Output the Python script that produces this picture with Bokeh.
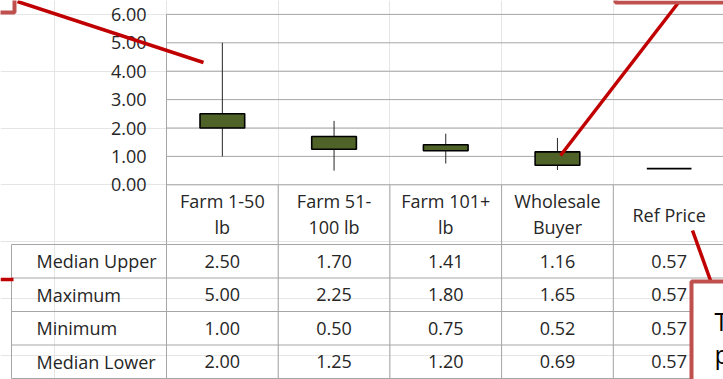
from bokeh.plotting import figure
from bokeh.models import Range1d, ColumnDataSource
from bokeh.core.properties import value
from bokeh.embed import file_html
from bokeh.resources import INLINE

# ---- data ----
categories = ["Farm 1-50 lb", "Farm 51-100 lb", "Farm 101+ lb", "Wholesale Buyer", "Ref Price"]
header_lines = [["Farm 1-50", "lb"], ["Farm 51-", "100 lb"], ["Farm 101+", "lb"],
                ["Wholesale", "Buyer"], ["Ref Price"]]
row_names = ["Median Upper", "Maximum", "Minimum", "Median Lower"]
median_upper = [2.50, 1.70, 1.41, 1.16, 0.57]
maximum = [5.00, 2.25, 1.80, 1.65, 0.57]
minimum = [1.00, 0.50, 0.75, 0.52, 0.57]
median_lower = [2.00, 1.25, 1.20, 0.69, 0.57]
y_ticks = [0, 1, 2, 3, 4, 5, 6]

# ---- layout constants (pixels) ----
W, H = 723, 379
PLOT_LEFT = 166          # left edge of the value area
ZERO_Y = 184.3           # pixel row of value 0
PX_PER_UNIT = 28.4       # pixels per price unit
CAT_W = 111.7            # pixels per category
TABLE_LEFT = 11
HEADER_BOTTOM = 244
ROW_H = 33.5
TABLE_BOTTOM = HEADER_BOTTOM + ROW_H * len(row_names)

FONT = value("Open Sans")
TXT = "#262626"
GRID = "#a6a6a6"

x_range = Range1d(-PLOT_LEFT / CAT_W, (W - PLOT_LEFT) / CAT_W)
y_range = Range1d(-(H - ZERO_Y) / PX_PER_UNIT, ZERO_Y / PX_PER_UNIT)

p = figure(width=W, height=H, x_range=x_range, y_range=y_range,
           output_backend="svg", toolbar_location=None,
           x_axis_location=None, y_axis_location=None, min_border=0)
p.outline_line_color = None
p.background_fill_color = "white"
p.extra_x_ranges = {"px": Range1d(0, W)}
p.extra_y_ranges = {"px": Range1d(H, 0)}

n = len(categories)
centers = [i + 0.5 for i in range(n)]
x_end = (W - PLOT_LEFT) / CAT_W + 0.1

# horizontal gridlines
p.segment(x0=[0] * (len(y_ticks) - 1), x1=[x_end] * (len(y_ticks) - 1),
          y0=y_ticks[1:], y1=y_ticks[1:], line_color=GRID, line_width=1)
# value axis line (continues down through the header and table)
p.segment(x0=[0], x1=[0], y0=[max(y_ticks)], y1=[-(TABLE_BOTTOM - ZERO_Y) / PX_PER_UNIT],
          line_color=GRID, line_width=1)
# category axis line
p.segment(x0=[0], x1=[x_end], y0=[0], y1=[0], line_color=GRID, line_width=1)

# tick labels
tick_src = ColumnDataSource(dict(x=[146] * len(y_ticks), y=y_ticks,
                                 t=["%.2f" % v for v in y_ticks]))
p.text(x="x", y="y", text="t", source=tick_src, x_range_name="px",
       text_font=FONT, text_font_size="18px", text_color=TXT,
       text_align="right", text_baseline="middle")

# table grid: vertical category separators
p.segment(x0=list(range(1, n)), x1=list(range(1, n)),
          y0=[ZERO_Y] * (n - 1), y1=[TABLE_BOTTOM] * (n - 1),
          y_range_name="px", line_color=GRID, line_width=1)
# table grid: horizontal row lines
row_edges = [HEADER_BOTTOM + ROW_H * k for k in range(len(row_names) + 1)]
p.segment(x0=[TABLE_LEFT] * len(row_edges), x1=[W + 5] * len(row_edges),
          y0=row_edges, y1=row_edges, x_range_name="px", y_range_name="px",
          line_color=GRID, line_width=1)
p.segment(x0=[TABLE_LEFT], x1=[TABLE_LEFT], y0=[HEADER_BOTTOM], y1=[TABLE_BOTTOM],
          x_range_name="px", y_range_name="px", line_color=GRID, line_width=1)

# whiskers and boxes
p.segment(x0=centers, x1=centers, y0=minimum, y1=maximum, line_color="#262626", line_width=1)
box_half = 0.2
p.quad(left=[c - box_half for c in centers], right=[c + box_half for c in centers],
       bottom=median_lower, top=median_upper,
       fill_color="#4f6228", line_color="black", line_width=1.6)

# header labels
hx, hy, ht = [], [], []
for i, lines in enumerate(header_lines):
    if len(lines) == 1:
        hx.append(centers[i]); hy.append(214); ht.append(lines[0])
    else:
        for j, s in enumerate(lines):
            hx.append(centers[i]); hy.append(200 + 26 * j); ht.append(s)
p.text(x=hx, y=hy, text=ht, y_range_name="px", text_font=FONT,
       text_font_size="18px", text_color=TXT, text_align="center", text_baseline="middle")

# row labels and values
row_centers = [HEADER_BOTTOM + ROW_H * (k + 0.5) for k in range(len(row_names))]
p.text(x=[36] * len(row_names), y=row_centers, text=row_names,
       x_range_name="px", y_range_name="px", text_font=FONT, text_font_size="18px",
       text_color=TXT, text_align="left", text_baseline="middle")
vx, vy, vt = [], [], []
for k, series in enumerate([median_upper, maximum, minimum, median_lower]):
    for i, v in enumerate(series):
        vx.append(centers[i]); vy.append(row_centers[k]); vt.append("%.2f" % v)
p.text(x=vx, y=vy, text=vt, y_range_name="px", text_font=FONT, text_font_size="18px",
       text_color=TXT, text_align="center", text_baseline="middle")

# callout pointers
RED = "#c00000"
p.segment(x0=[17, 678, 692, 0], y0=[1, 2, 230, 279], x1=[203, 560, 710, 13], y1=[62, 155, 280, 279],
          x_range_name="px", y_range_name="px", line_color=RED, line_width=3.5)

# callout boxes
BOX = "#c0504d"
p.quad(left=[-60, 615, 691], right=[14, 800, 800], top=[-60, -60, 281], bottom=[12, 2, 460],
       x_range_name="px", y_range_name="px", fill_color="white",
       line_color=BOX, line_width=4)
p.text(x=[714, 714], y=[320, 353], text=["T", "p"], x_range_name="px", y_range_name="px",
       text_font=FONT, text_font_size="25px", text_color="black",
       text_align="left", text_baseline="alphabetic")

open("out.html", "w").write(file_html(p, INLINE))
